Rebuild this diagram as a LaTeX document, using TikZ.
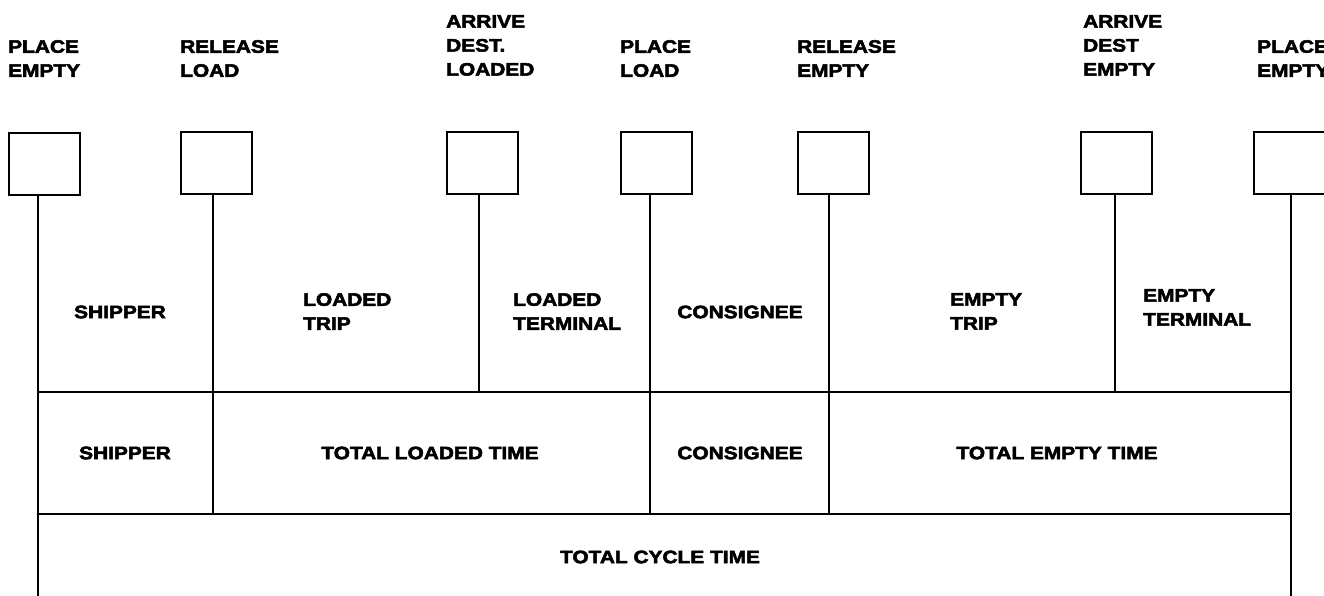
\documentclass[tikz,border=0pt]{standalone}
\usepackage{fontspec}
\newfontfamily\labfam{Liberation Sans}[BoldFeatures={FakeBold=3,FakeStretch=1.16}]
\newcommand{\labf}{\labfam\bfseries\fontsize{18}{24}\selectfont}
\begin{document}
\begin{tikzpicture}[x=1pt,y=-1pt,
  evbox/.style={draw,line width=1.8pt,minimum width=71pt,minimum height=62pt,inner sep=0pt,anchor=north west},
  lab/.style={font=\labf,align=left,inner sep=0pt,anchor=north west},
  clab/.style={font=\labf,inner sep=0pt},
  vl/.style={line width=1.3pt},
  hl/.style={line width=1.8pt}]
\useasboundingbox (0,0) rectangle (1324,596);
\clip (0,0) rectangle (1324,596);
% event boxes
\node[evbox] (b1) at (8,132) {};
\node[evbox] (b2) at (180,131) {};
\node[evbox] (b3) at (446,131) {};
\node[evbox] (b4) at (620,131) {};
\node[evbox] (b5) at (797,131) {};
\node[evbox] (b6) at (1080,131) {};
\node[evbox] (b7) at (1253,131) {};
% labels above boxes
\node[lab] (t1) at (8,40) {PLACE\\EMPTY};
\node[lab] (t2) at (180,40) {RELEASE\\LOAD};
\node[lab] (t3) at (446,15) {ARRIVE\\DEST.\\LOADED};
\node[lab] (t4) at (620,40) {PLACE\\LOAD};
\node[lab] (t5) at (797,40) {RELEASE\\EMPTY};
\node[lab] (t6) at (1083,15) {ARRIVE\\DEST\\EMPTY};
\node[lab] (t7) at (1257,40) {PLACE\\EMPTY};
% line ends
\coordinate (e1) at (38,596);
\coordinate (e2) at (213,514);
\coordinate (e3) at (479,392);
\coordinate (e4) at (650,514);
\coordinate (e5) at (829,514);
\coordinate (e6) at (1115,392);
\coordinate (e7) at (1291,596);
\draw[vl] (b1.south -| e1) -- (e1);
\draw[vl] (b2.south -| e2) -- (e2);
\draw[vl] (b3.south -| e3) -- (e3);
\draw[vl] (b4.south -| e4) -- (e4);
\draw[vl] (b5.south -| e5) -- (e5);
\draw[vl] (b6.south -| e6) -- (e6);
\draw[vl] (b7.south -| e7) -- (e7);
% horizontal rules
\coordinate (h1l) at (38,392);
\coordinate (h1r) at (1291,392);
\coordinate (h2l) at (38,514);
\coordinate (h2r) at (1291,514);
\draw[hl] (h1l) -- (h1r);
\draw[hl] (h2l) -- (h2r);
% segment labels
\node[clab] (s1) at (120,312) {SHIPPER};
\node[lab] (s2) at (303,293) {LOADED\\TRIP};
\node[lab] (s3) at (513,293) {LOADED\\TERMINAL};
\node[clab] (s4) at (740,312) {CONSIGNEE};
\node[lab] (s5) at (950,293) {EMPTY\\TRIP};
\node[lab] (s6) at (1143,289) {EMPTY\\TERMINAL};
% totals
\node[clab] (r1) at (125,453) {SHIPPER};
\node[clab] (r2) at (430,453) {TOTAL LOADED TIME};
\node[clab] (r3) at (740,453) {CONSIGNEE};
\node[clab] (r4) at (1057,453) {TOTAL EMPTY TIME};
\node[clab] (r5) at (660,557) {TOTAL CYCLE TIME};
\end{tikzpicture}
\end{document}
